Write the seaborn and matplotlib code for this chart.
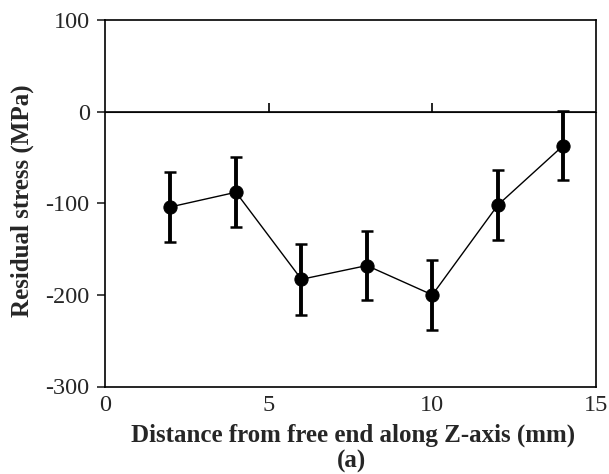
import numpy as np
import pandas as pd
import matplotlib
matplotlib.use("Agg")
import matplotlib.pyplot as plt
import seaborn as sns

# ----------------------------------------
# Data
# ----------------------------------------
distance_mm = [2, 4, 6, 8, 10, 12, 14]
stress_mpa = [-104, -88, -183, -168, -200, -102, -37]
stress_err = [38, 38, 39, 38, 38, 38, 38]
x_ticks = [0, 5, 10, 15]
y_ticks = [-300, -200, -100, 0, 100]

df = pd.DataFrame({"distance": distance_mm, "stress": stress_mpa, "err": stress_err})

# ----------------------------------------
# Style
# ----------------------------------------
sns.set_style("ticks")
plt.rcParams["font.family"] = ["Liberation Serif", "DejaVu Serif"]
plt.rcParams["axes.unicode_minus"] = False

fig = plt.figure(figsize=(6.09, 4.74), dpi=100)
ax = fig.add_axes([105 / 609, 1 - 386.5 / 474, 491 / 609, 366.5 / 474])

# error bars first, then line + markers on top
ax.errorbar(df["distance"], df["stress"], yerr=df["err"], fmt="none",
            ecolor="black", elinewidth=2.8, capsize=4.5, capthick=1.8, zorder=2)
sns.lineplot(data=df, x="distance", y="stress", ax=ax, color="black",
             linewidth=1.0, marker="o", markersize=9.5, markeredgecolor="black",
             markerfacecolor="black", zorder=3)

# zero line acting as category axis with tick marks pointing down
ax.axhline(0, color="black", linewidth=1.2, zorder=1)
sec = ax.secondary_xaxis(0.75)
sec.set_xticks(x_ticks[1:-1])
sec.set_xticklabels([])
sec.tick_params(axis="x", direction="out", length=6.5, width=1.2, color="black")
sec.spines["bottom"].set_visible(False)

ax.set_xlim(0, 15)
ax.set_ylim(-300, 100)
ax.set_xticks(x_ticks)
ax.set_yticks(y_ticks)
ax.tick_params(axis="x", length=0, pad=6, labelsize=17.5)
ax.tick_params(axis="y", direction="out", length=6, width=1.2, pad=5, labelsize=17.5)

for side in ["left", "right", "top", "bottom"]:
    ax.spines[side].set_visible(True)
    ax.spines[side].set_linewidth(1.2)
    ax.spines[side].set_color("black")

ax.set_xlabel("")
ax.set_ylabel("")

fig.text(22.5 / 609, 1 - 201 / 474, "Residual stress (MPa)", rotation=90,
         ha="center", va="center", fontsize=18, fontweight="bold")
fig.text(353 / 609, 1 - 435 / 474, "Distance from free end along Z-axis (mm)",
         ha="center", va="center", fontsize=18, fontweight="bold")
fig.text(352 / 609, 1 - 461 / 474, "(a)", ha="center", va="center",
         fontsize=18, fontweight="bold")

fig.savefig("out.png", dpi=100)
